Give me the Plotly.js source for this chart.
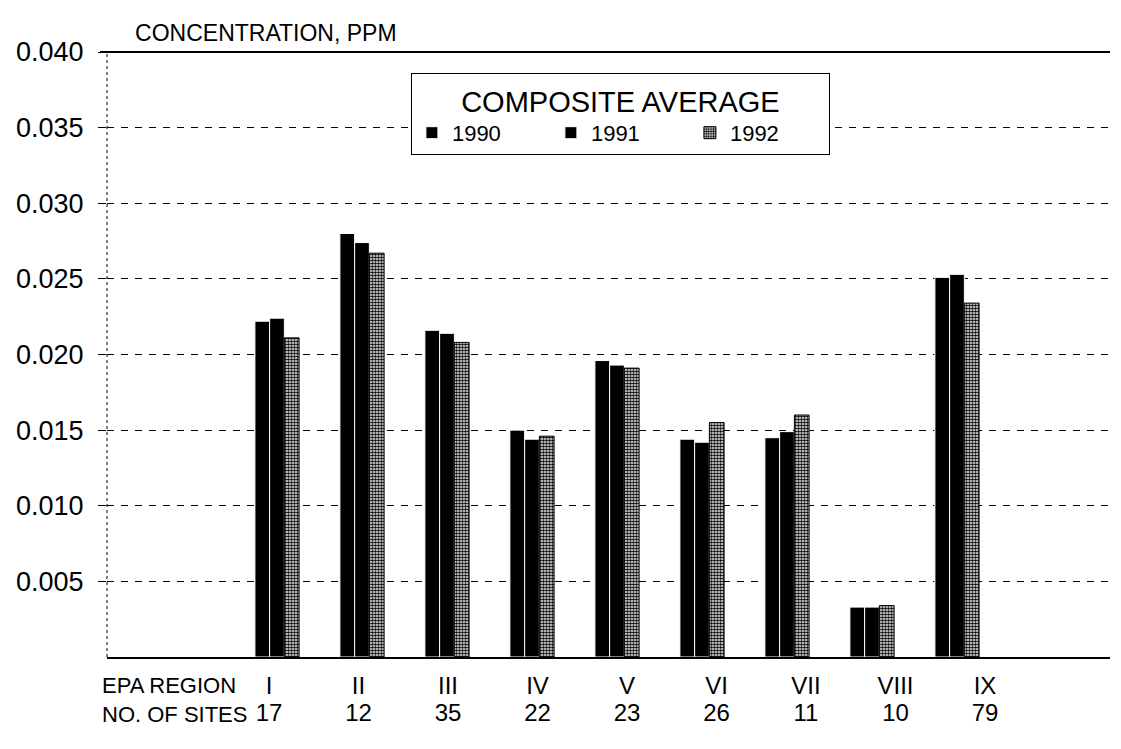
<!DOCTYPE html>
<html>
<head>
<meta charset="utf-8">
<script src="https://cdn.plot.ly/plotly-3.0.1.min.js"></script>
<style>
html,body{margin:0;padding:0;background:#fff;}
#chart{width:1121px;height:749px;}
</style>
</head>
<body>
<div id="chart"></div>
<script>
const regions = ['I','II','III','IV','V','VI','VII','VIII','IX'];
const sites = [17,12,35,22,23,26,11,10,79];
const y1990 = [0.0222,0.0280,0.0216,0.0150,0.0196,0.0144,0.0145,0.0033,0.0251];
const y1991 = [0.0224,0.0274,0.0214,0.0144,0.0193,0.0142,0.0149,0.0033,0.0253];
const y1992 = [0.0211,0.0267,0.0208,0.0146,0.0191,0.0155,0.0160,0.0034,0.0234];
const yTicks = [0.005,0.010,0.015,0.020,0.025,0.030,0.035,0.040];
const titleText = 'CONCENTRATION, PPM';
const legendTitle = 'COMPOSITE AVERAGE';
const rowLabels = 'EPA REGION<br>NO. OF SITES';

const FONT = 'Liberation Sans, Arial, sans-serif';
const idx = regions.map((_, i) => i);

const traces = [
  {type:'bar', name:'1990', x:regions, y:y1990,
   marker:{color:'#000', line:{color:'#fff', width:1}}},
  {type:'bar', name:'1991', x:regions, y:y1991,
   marker:{color:'#000', line:{color:'#fff', width:1}}},
  {type:'bar', name:'1992', x:regions, y:y1992,
   marker:{color:'#fff', line:{color:'#000', width:1},
           pattern:{shape:'.', fgcolor:'#000', bgcolor:'#fff', size:3, solidity:0.6}}},
  // invisible carrier traces so the label axes (xaxis2, xaxis3) are drawn
  {type:'scatter', mode:'markers', x:idx, y:y1990, xaxis:'x2', yaxis:'y',
   marker:{opacity:0}, showlegend:false, hoverinfo:'skip'},
  {type:'scatter', mode:'markers', x:idx, y:y1990, xaxis:'x3', yaxis:'y',
   marker:{opacity:0}, showlegend:false, hoverinfo:'skip'}
];

const labelAxis = (labels, standoff) => ({
  overlaying:'x', anchor:'y', side:'bottom', type:'linear',
  range:[-1.81, 9.397], tickmode:'array', tickvals:idx, ticktext:labels,
  ticks:'', showgrid:false, zeroline:false, showline:false,
  tickfont:{family:FONT, size:24, color:'#000'}, ticklabelstandoff:standoff
});

const layout = {
  width:1121, height:749,
  margin:{l:107, r:11, t:52, b:92},
  paper_bgcolor:'#fff', plot_bgcolor:'#fff',
  font:{family:FONT, color:'#000'},
  barmode:'group', bargap:0.48, bargroupgap:0,
  showlegend:true,
  title:{text:titleText, font:{family:FONT, size:23, color:'#000'},
         xref:'paper', x:0.028, xanchor:'left', yref:'container', y:0.956, yanchor:'middle'},
  xaxis:{type:'category', range:[-2, 9.8], showticklabels:false, ticks:'',
         showgrid:false, zeroline:false, showline:true, linecolor:'#000', linewidth:2,
         fixedrange:true},
  xaxis2:labelAxis(regions, 12),
  xaxis3:labelAxis(sites.map(String), 39),
  yaxis:{range:[0, 0.040], tickmode:'array', tickvals:yTicks, tickformat:'.3f',
         ticks:'outside', ticklen:8, tickcolor:'#000', tickwidth:1,
         tickfont:{family:FONT, size:27, color:'#000'}, ticklabelstandoff:9,
         showgrid:true, gridcolor:'#000', gridwidth:1, griddash:'7px,7px',
         zeroline:false, showline:false},
  legend:{orientation:'h', x:0.303, xanchor:'left', y:0.965, yanchor:'top',
          bgcolor:'#fff', bordercolor:'#000', borderwidth:1,
          entrywidth:94, entrywidthmode:'pixels',
          font:{family:FONT, size:22, color:'#000'},
          title:{text:legendTitle, side:'top center', font:{family:FONT, size:29, color:'#000'}},
          traceorder:'normal'},
  shapes:[
    {type:'line', xref:'paper', yref:'paper', x0:-0.007, x1:1, y0:1, y1:1,
     line:{color:'#000', width:2}},
    {type:'line', xref:'paper', yref:'paper', x0:0, x1:0, y0:0, y1:1,
     line:{color:'#000', width:1, dash:'dot'}}
  ],
  annotations:[
    {text:rowLabels, xref:'paper', yref:'paper', x:-0.007, y:-0.071,
     xanchor:'left', yanchor:'middle', align:'left', showarrow:false,
     font:{family:FONT, size:22, color:'#000'}}
  ]
};

Plotly.newPlot('chart', traces, layout, {displayModeBar:false, staticPlot:true});
</script>
</body>
</html>
